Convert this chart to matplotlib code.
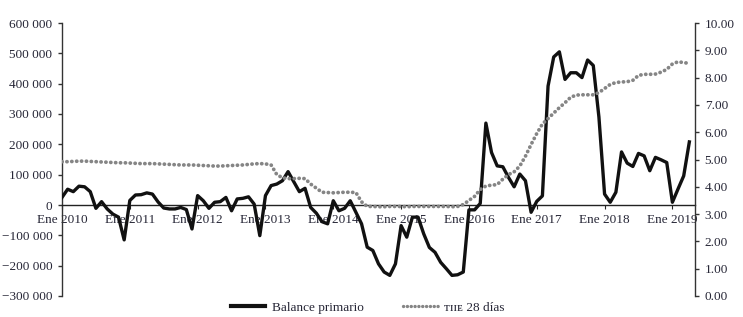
import numpy as np
import matplotlib
matplotlib.use('Agg')
import matplotlib.pyplot as plt
from matplotlib.lines import Line2D

# balance primario mensual (millones de pesos), ene 2010 - abr 2019
balance = [
    25000, 52000, 44000, 62000, 60000, 44000, -11000, 11000, -13000, -30000, -40000, -115000,   # 2010
    15000, 33000, 34000, 40000, 36000, 10000, -10000, -13000, -13000, -8000, -15000, -79000,    # 2011
    31000, 14000, -11000, 9000, 11000, 25000, -19000, 20000, 22000, 27000, 3000, -101000,       # 2012
    31000, 64000, 69000, 80000, 110000, 77000, 44000, 55000, -8000, -27000, -55000, -62000,     # 2013
    14000, -19000, -11000, 14000, -24000, -62000, -139000, -150000, -194000, -221000, -232000, -194000,  # 2014
    -68000, -106000, -40000, -40000, -95000, -140000, -156000, -189000, -210000, -232000, -230000, -221000,  # 2015
    -16000, -16000, 5000, 270000, 173000, 129000, 126000, 91000, 60000, 102000, 80000, -24000,  # 2016
    12000, 30000, 392000, 488000, 505000, 414000, 436000, 436000, 420000, 478000, 460000, 290000,  # 2017
    36000, 9000, 42000, 175000, 138000, 127000, 170000, 162000, 113000, 157000, 149000, 140000,  # 2018
    9000, 53000, 96000, 208000,                                                                 # 2019
]

# TIIE 28 dias (%)
tiie = [
    4.92, 4.92, 4.93, 4.94, 4.94, 4.93, 4.92, 4.91, 4.90, 4.89, 4.88, 4.88,
    4.87, 4.86, 4.85, 4.85, 4.85, 4.84, 4.83, 4.82, 4.81, 4.80, 4.80, 4.80,
    4.79, 4.78, 4.77, 4.76, 4.76, 4.77, 4.78, 4.79, 4.80, 4.82, 4.84, 4.85,
    4.84, 4.80, 4.45, 4.33, 4.30, 4.30, 4.31, 4.30, 4.10, 3.95, 3.80, 3.79,
    3.78, 3.79, 3.80, 3.80, 3.79, 3.45, 3.28, 3.28, 3.27, 3.27, 3.28, 3.28,
    3.28, 3.27, 3.28, 3.28, 3.28, 3.28, 3.28, 3.28, 3.28, 3.27, 3.28, 3.35,
    3.50, 3.65, 3.90, 4.03, 4.06, 4.08, 4.28, 4.45, 4.55, 4.76, 5.12, 5.55,
    5.95, 6.30, 6.50, 6.70, 6.90, 7.08, 7.28, 7.36, 7.37, 7.37, 7.37, 7.45,
    7.60, 7.75, 7.82, 7.84, 7.85, 7.90, 8.08, 8.12, 8.12, 8.13, 8.20, 8.30,
    8.50, 8.58, 8.55, 8.52,
]

years = list(range(2010, 2020))
xtick_labels = [f'Ene {y}' for y in years]
left_ticks = list(range(-300000, 600001, 100000))
right_ticks = list(range(0, 11))

plt.rcParams['font.family'] = ['Liberation Serif', 'DejaVu Serif']
TXT = '#262636'
AX = '#333333'
GREY = '#858585'

fig = plt.figure(figsize=(7.43, 3.17), dpi=100)
ax = fig.add_axes([62/743, 21/317, 633/743, 273/317])
x = np.arange(len(balance))
ax.plot(x, balance, color='#111111', lw=2.4, zorder=3)
ax.set_xlim(0, 112)
ax.set_ylim(-300000, 600000)

def miles(v):
    if v == 0:
        return '0'
    s = f'{abs(v):,}'.replace(',', ' ')
    return ('\u2212' if v < 0 else '') + s

ax.set_yticks(left_ticks)
ax.set_yticklabels([miles(v) for v in left_ticks])
ax.set_xticks([12 * i for i in range(len(years))])
ax.set_xticklabels(xtick_labels)

ax.spines['top'].set_visible(False)
ax.spines['right'].set_visible(False)
ax.spines['bottom'].set_position(('data', 0))
ax.spines['bottom'].set_color('#222222')
ax.spines['bottom'].set_linewidth(1.0)
ax.spines['left'].set_color(AX)
ax.spines['left'].set_linewidth(1.0)
ax.tick_params(axis='y', length=3, width=1, color=AX, pad=4, labelsize=9.5, labelcolor=TXT)
ax.tick_params(axis='x', length=3, width=0.8, color='#222222', pad=3.5, labelsize=9.5, labelcolor=TXT)

ax2 = ax.twinx()
ax2.plot(x, tiie, color=GREY, lw=2.7, linestyle=(0, (0.05, 1.25)), dash_capstyle='round')
ax2.set_ylim(0, 10)
ax2.set_yticks(right_ticks)
ax2.set_yticklabels([f'{v:.2f}' for v in right_ticks])
for s in ['top', 'bottom', 'left']:
    ax2.spines[s].set_visible(False)
ax2.spines['right'].set_color(AX)
ax2.spines['right'].set_linewidth(1.0)
ax2.tick_params(axis='y', length=3, width=1, color=AX, pad=4, labelsize=9.5, labelcolor=TXT)

handles = [Line2D([], [], color='#111111', lw=3.0),
           Line2D([], [], color=GREY, lw=2.4, linestyle=(0, (0.05, 1.1)), dash_capstyle='round')]
fig.legend(handles, ['Balance primario', '\u1d1b\u026a\u026a\u1d07 28 días'],
           loc='center', bbox_to_anchor=(0.495, 0.03), ncol=2, frameon=False,
           fontsize=9.5, handlelength=2.6, columnspacing=3.0, handletextpad=0.5,
           labelcolor=TXT, borderpad=0.2)

fig.savefig('out.png', dpi=100)
